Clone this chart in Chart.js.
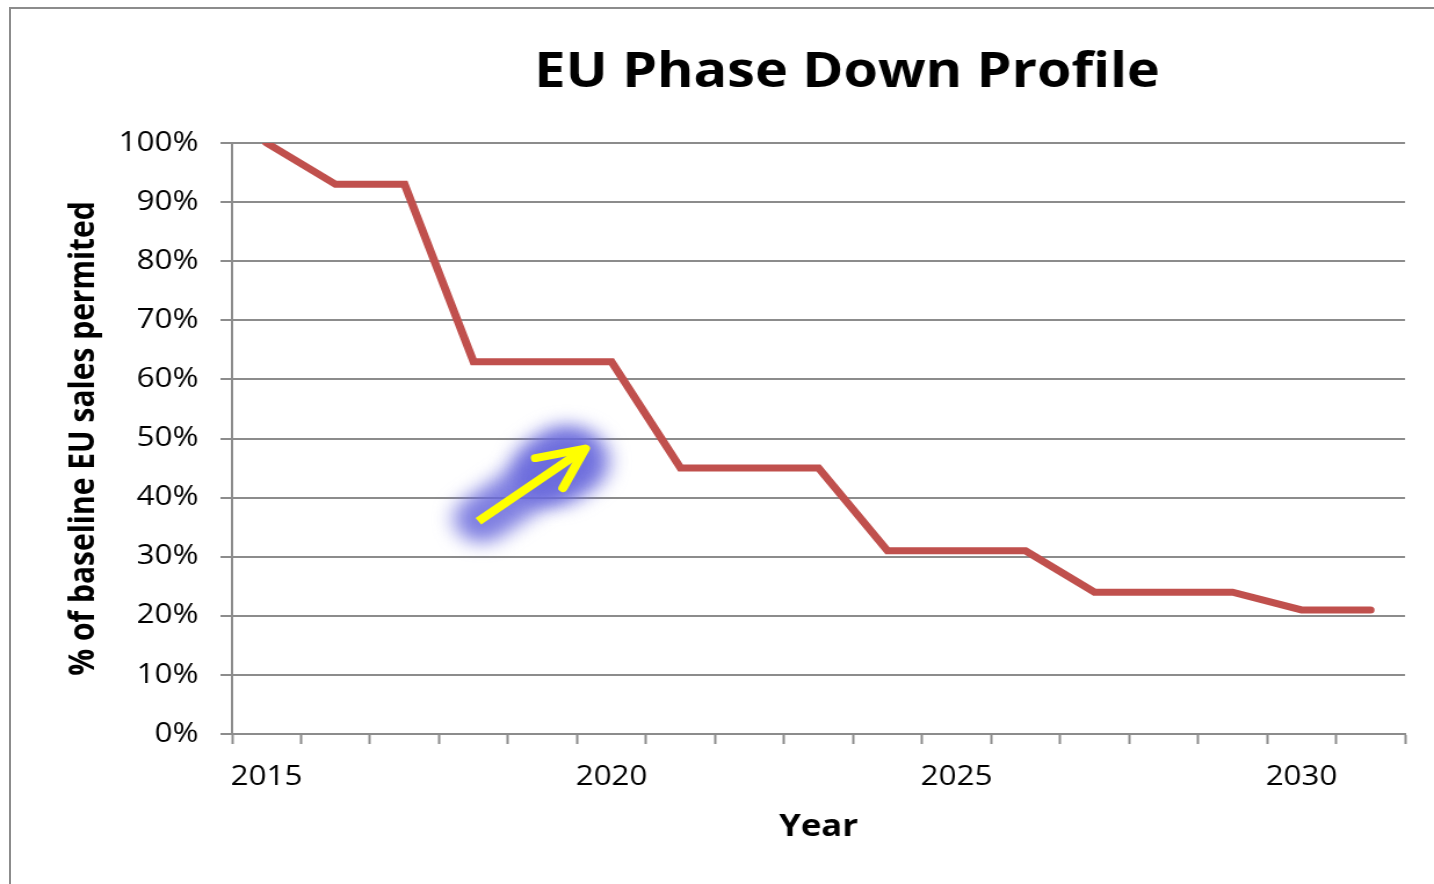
<!DOCTYPE html>
<html>
<head>
<meta charset="utf-8">
<script src="https://cdn.jsdelivr.net/npm/chart.js@4.4.1/dist/chart.umd.min.js"></script>
<style>
    html, body {
        margin: 0;
        padding: 0;
        background: #ffffff;
    }
    #wrap {
        position: relative;
        width: 1434px;
        height: 884px;
        overflow: hidden;
    }
    #frame {
        position: absolute;
        left: 9px;
        top: 7px;
        width: 1440px;
        height: 900px;
        border-left: 2px solid #8c8c8c;
        border-top: 2px solid #8c8c8c;
        pointer-events: none;
    }
    canvas {
        position: absolute;
        left: 0;
        top: 0;
    }
</style>
</head>
<body>
<div id="wrap">
    <!-- the source picture is stretched sideways, so the canvas is drawn narrow and widened -->
    <canvas id="phaseChart" width="1236" height="884" style="width:1434px;height:884px"></canvas>
    <div id="frame"></div>
</div>
<script>
// Years on the category axis
const years = ['2015', '2016', '2017', '2018', '2019', '2020', '2021', '2022', '2023',
    '2024', '2025', '2026', '2027', '2028', '2029', '2030', '2031'];

// % of baseline EU sales permitted
const permitted = [100, 93, 93, 63, 63, 63, 45, 45, 45, 31, 31, 31, 24, 24, 24, 21, 21];

// Year labels that are printed under the axis
const shownYears = ['2015', '2020', '2025', '2030'];

// Yellow arrow annotation, in data units (category index, percent)
const arrowFrom = [3.07, 36];
const arrowTo = [4.62, 48.3];

const chartTitle = 'EU Phase Down Profile';
const fontFamily = '"Open Sans", "DejaVu Sans", sans-serif';
const colorGrid = '#8c8c8c';
const colorLine = '#c0504d';

const titlePlugin = {
    id: 'topTitle',
    afterDraw(chart) {
        const ctx = chart.ctx;
        ctx.save();
        ctx.font = `bold 48px ${fontFamily}`;
        ctx.fillStyle = '#000000';
        ctx.textAlign = 'left';
        ctx.textBaseline = 'alphabetic';
        ctx.fillText(chartTitle, 460.5, 87);
        ctx.restore();
    }
};

const arrowPlugin = {
    id: 'arrowNote',
    afterDatasetsDraw(chart) {
        const ctx = chart.ctx;
        const xs = chart.scales.x;
        const ys = chart.scales.y;
        const x1 = xs.getPixelForValue(arrowFrom[0]);
        const y1 = ys.getPixelForValue(arrowFrom[1]);
        const x2 = xs.getPixelForValue(arrowTo[0]);
        const y2 = ys.getPixelForValue(arrowTo[1]);
        const ang = Math.atan2(y2 - y1, x2 - x1);
        const cos = Math.cos(ang);
        const sin = Math.sin(ang);

        // soft blue glow behind the arrow
        ctx.save();
        ctx.filter = 'blur(9px)';
        ctx.strokeStyle = 'rgba(105, 105, 220, 0.85)';
        ctx.lineCap = 'round';
        ctx.lineWidth = 48;
        ctx.beginPath();
        ctx.moveTo(x1 + 4 * cos, y1 + 4 * sin);
        ctx.lineTo(x2 - 20 * cos, y2 - 20 * sin);
        ctx.stroke();
        ctx.lineWidth = 72;
        ctx.beginPath();
        ctx.moveTo(x2 - 34 * cos, y2 - 34 * sin);
        ctx.lineTo(x2 - 20 * cos, y2 - 20 * sin);
        ctx.stroke();
        ctx.restore();

        // the arrow itself
        ctx.save();
        ctx.strokeStyle = '#ffff00';
        ctx.lineWidth = 8;
        ctx.lineCap = 'butt';
        ctx.lineJoin = 'round';
        ctx.beginPath();
        ctx.moveTo(x1, y1);
        ctx.lineTo(x2 - 6 * cos, y2 - 6 * sin);
        ctx.stroke();
        const head = 44;
        const spread = 0.45;
        ctx.lineCap = 'round';
        ctx.beginPath();
        ctx.moveTo(x2 - head * Math.cos(ang - spread), y2 - head * Math.sin(ang - spread));
        ctx.lineTo(x2, y2);
        ctx.lineTo(x2 - head * Math.cos(ang + spread), y2 - head * Math.sin(ang + spread));
        ctx.stroke();
        ctx.restore();
    }
};

const chart = new Chart(document.getElementById('phaseChart'), {
    type: 'line',
    data: {
        labels: years,
        datasets: [{
            label: '% of baseline EU sales permited',
            data: permitted,
            borderColor: colorLine,
            borderWidth: 7,
            pointRadius: 0,
            tension: 0,
            fill: false,
            borderCapStyle: 'round',
            borderJoinStyle: 'miter'
        }]
    },
    options: {
        responsive: false,
        animation: false,
        layout: {
            padding: { left: 50, right: 25, top: 143, bottom: 0 }
        },
        plugins: {
            legend: { display: false },
            tooltip: { enabled: false },
            title: { display: false }
        },
        scales: {
            x: {
                offset: true,
                afterFit(scale) {
                    scale.height = 150;
                },
                border: { color: colorGrid, width: 2 },
                grid: {
                    offset: true,
                    drawOnChartArea: false,
                    drawTicks: true,
                    tickLength: 10,
                    tickWidth: 2,
                    tickColor: colorGrid,
                    color: colorGrid
                },
                ticks: {
                    autoSkip: false,
                    maxRotation: 0,
                    padding: 17,
                    color: '#000000',
                    font: { family: fontFamily, size: 27 },
                    callback: function(value) {
                        const label = this.getLabelForValue(value);
                        return shownYears.includes(label) ? label : '';
                    }
                },
                title: {
                    display: true,
                    text: 'Year',
                    color: '#000000',
                    font: { family: fontFamily, size: 30, weight: 'bold' },
                    padding: { top: 0, bottom: 39 }
                }
            },
            y: {
                min: 0,
                max: 100,
                afterFit(scale) {
                    scale.width = 150;
                },
                border: { color: colorGrid, width: 2 },
                grid: {
                    color: colorGrid,
                    lineWidth: 2,
                    tickLength: 10,
                    tickColor: colorGrid
                },
                ticks: {
                    stepSize: 10,
                    padding: 19,
                    color: '#000000',
                    font: { family: fontFamily, size: 27 },
                    callback: value => value + '%'
                },
                title: {
                    display: true,
                    text: '% of baseline EU sales permited',
                    color: '#000000',
                    font: { family: fontFamily, size: 30, weight: 'bold' },
                    padding: { top: 4, bottom: 0 }
                }
            }
        }
    },
    plugins: [titlePlugin, arrowPlugin]
});
</script>
</body>
</html>
